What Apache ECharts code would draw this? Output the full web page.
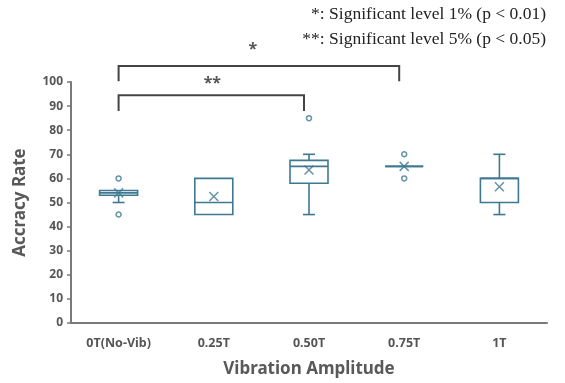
<!DOCTYPE html>
<html><head><meta charset="utf-8">
<script src="https://cdn.jsdelivr.net/npm/echarts@6/dist/echarts.min.js"></script>
<style>html,body{margin:0;padding:0;background:#fff}#c{width:565px;height:383px}</style>
</head><body><div id="c"></div>
<script>
const categories = ['0T(No-Vib)', '0.25T', '0.50T', '0.75T', '1T'];
// [min, q1, median, q3, max]
const boxValues = [
  [50, 53, 54, 55, 55],
  [45, 45, 50, 60, 60],
  [45, 58, 65, 67.5, 70],
  [65, 65, 65, 65, 65],
  [45, 50, 60, 60, 70]
];
const means = [54, 52.5, 63.5, 65, 56.5];
const outliers = [[0, 60], [0, 45], [2, 85], [3, 70], [3, 60]];
// brackets: [fromIndex, toIndex, barValue, legValue]
const brackets = [[0, 3, 106.6, 100.3], [0, 2, 94.5, 88]];
const bracketLabels = ['*', '**'];
const noteLines = ['*: Significant level 1% (p < 0.01)', '**: Significant level 5% (p < 0.05)'];
const yTicks = {min: 0, max: 100, interval: 10};

const C = '#3f7891';
const chart = echarts.init(document.getElementById('c'));
chart.setOption({
  animation: false,
  backgroundColor: '#fff',
  grid: {left: 71, right: 18, top: 82, bottom: 57},
  graphic: noteLines.map((t, k) => ({
    type: 'text', right: 19, top: 5 + k * 25.5,
    style: {text: t, font: '17.5px Liberation Serif', fill: '#222'}
  })),
  xAxis: {
    type: 'category', data: categories,
    axisLine: {lineStyle: {color: '#7a7a7a', width: 2}},
    axisTick: {show: false},
    axisLabel: {color: '#555', fontWeight: 'bold', fontSize: 12.5, fontFamily: 'Noto Sans', margin: 14},
    name: 'Vibration Amplitude', nameLocation: 'middle', nameGap: 38,
    nameTextStyle: {color: '#595959', fontSize: 17, fontWeight: 'bold', fontFamily: 'Noto Sans'}
  },
  yAxis: {
    type: 'value', min: yTicks.min, max: yTicks.max, interval: yTicks.interval,
    splitLine: {show: false},
    axisLine: {show: true, lineStyle: {color: '#7a7a7a', width: 2}},
    axisTick: {show: true, length: 4, lineStyle: {color: '#7a7a7a', width: 1.5}},
    axisLabel: {color: '#555', fontWeight: 'bold', fontSize: 12, fontFamily: 'Noto Sans', margin: 8},
    name: 'Accracy Rate', nameLocation: 'middle', nameGap: 42, nameRotate: 90,
    nameTextStyle: {color: '#595959', fontSize: 17, fontWeight: 'bold', fontFamily: 'Noto Sans'}
  },
  series: [
    {
      type: 'custom',
      data: boxValues.map((v, i) => [i].concat(v)),
      renderItem: function (params, api) {
        const i = api.value(0);
        const mn = api.coord([i, api.value(1)]);
        const q1 = api.coord([i, api.value(2)]);
        const md = api.coord([i, api.value(3)]);
        const q3 = api.coord([i, api.value(4)]);
        const mx = api.coord([i, api.value(5)]);
        const x = q1[0], hw = 19, cw = 6;
        const st = {stroke: C, lineWidth: 1.6, fill: null};
        const ch = [];
        ch.push({type: 'rect', shape: {x: x - hw, y: q3[1], width: 2 * hw, height: q1[1] - q3[1]}, style: st});
        ch.push({type: 'line', shape: {x1: x - hw, y1: md[1], x2: x + hw, y2: md[1]}, style: st});
        if (mx[1] < q3[1] - 0.5) {
          ch.push({type: 'line', shape: {x1: x, y1: q3[1], x2: x, y2: mx[1]}, style: st});
          ch.push({type: 'line', shape: {x1: x - cw, y1: mx[1], x2: x + cw, y2: mx[1]}, style: st});
        }
        if (mn[1] > q1[1] + 0.5) {
          ch.push({type: 'line', shape: {x1: x, y1: q1[1], x2: x, y2: mn[1]}, style: st});
          ch.push({type: 'line', shape: {x1: x - cw, y1: mn[1], x2: x + cw, y2: mn[1]}, style: st});
        }
        return {type: 'group', children: ch};
      },
      z: 2
    },
    {
      type: 'scatter', data: means.map((m, i) => [i, m]),
      symbol: 'path://M0,0L10,10M10,0L0,10', symbolSize: 9,
      itemStyle: {color: 'none', borderColor: C, borderWidth: 1.5}, z: 3
    },
    {
      type: 'scatter', data: outliers,
      symbol: 'circle', symbolSize: 5,
      itemStyle: {color: '#fff', borderColor: C, borderWidth: 1.5}, z: 3
    },
    {
      type: 'custom', data: brackets.map((b, k) => b.concat([k])), clip: false,
      renderItem: function (params, api) {
        const a = api.coord([api.value(0), api.value(2)]);
        const b = api.coord([api.value(1), api.value(2)]);
        const la = api.coord([api.value(0), api.value(3)]);
        const st = {stroke: '#444', lineWidth: 2, fill: null};
        const k = api.value(4);
        const lab = bracketLabels[k];
        const rx = b[0] - 5;
        const tx = k === 0 ? (a[0] + rx) / 2 - 6 : (a[0] + rx) / 2 + 1;
        const ty = k === 0 ? a[1] - 17 : a[1] - 12;
        return {type: 'group', children: [
          {type: 'polyline', shape: {points: [[a[0], la[1]], [a[0], a[1]], [rx, b[1]], [rx, la[1]]]}, style: st},
          {type: 'text', style: {text: lab, x: tx, y: ty, textAlign: 'center', textVerticalAlign: 'middle', fill: '#555', font: 'bold 16px Noto Sans'}}
        ]};
      }
    }
  ]
});
</script></body></html>
